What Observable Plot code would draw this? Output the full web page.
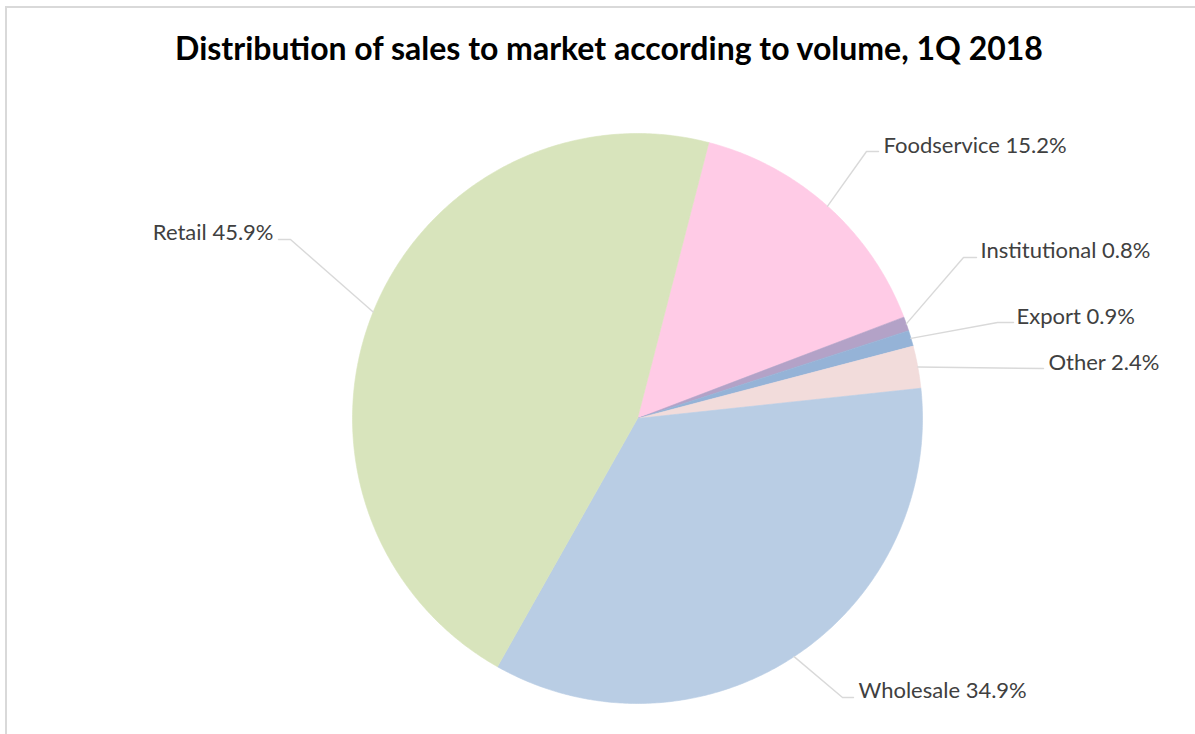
<!DOCTYPE html>
<html><head><meta charset="utf-8">
<script src="https://cdn.jsdelivr.net/npm/d3@7"></script>
<script src="https://cdn.jsdelivr.net/npm/@observablehq/plot@0.6"></script>
<style>
body{margin:0;background:#fff;width:1195px;height:734px;overflow:hidden;position:relative;font-family:Lato,sans-serif}
#frame{position:absolute;left:5px;top:6px;width:1300px;height:900px;border:2px solid #d9d9d9;box-sizing:border-box}
#title{position:absolute;left:0;width:1218px;top:27px;text-align:center;font-weight:bold;font-size:32px;color:#000;line-height:42px}
#chart{position:absolute;left:0;top:90px}
</style></head><body>
<div id="frame"></div>
<div id="title">Distribution of sales to market according to volume, 1Q 2018</div>
<div id="chart"></div>
<script>
// ---- data ----
const categories = ["Foodservice", "Institutional", "Export", "Other", "Wholesale", "Retail"];
const shares = [15.2, 0.8, 0.9, 2.4, 34.9, 45.9];
const sliceColors = ["#ffcbe6", "#b3a2c7", "#95b3d7", "#f2dcdb", "#b9cde4", "#d8e4bc"];

// ---- layout (page pixels) ----
const W = 1195, H = 644, TOP = 90;
const CX = 637, CY = 418, R = 285;       // pie centre / radius on the page
const startDeg = 14.5;                    // clockwise from 12 o'clock
const labelLayout = {
  Foodservice:   {tx: 883,  ty: 152, anchor: "start", elbow: [866, 151], end: [878, 151]},
  Institutional: {tx: 980,  ty: 257, anchor: "start", elbow: [963, 257], end: [976, 257]},
  Export:        {tx: 1016, ty: 323, anchor: "start", elbow: [997, 322], end: [1013, 322]},
  Other:         {tx: 1048, ty: 369, anchor: "start", elbow: null,       end: [1043, 368]},
  Wholesale:     {tx: 858,  ty: 697, anchor: "start", elbow: [842, 697], end: [853, 697]},
  Retail:        {tx: 273,  ty: 239, anchor: "end",   elbow: [290, 239], end: [278, 239]}
};
const px = (x) => (x - CX) / R;
const py = (y) => (CY - y) / R;

// ---- derived geometry in data units (radius = 1) ----
const total = d3.sum(shares);
const rad = (deg) => deg * Math.PI / 180;
let acc = startDeg;
const slicePts = [], leaderPts = [], labelData = [];
categories.forEach((cat, i) => {
  const a0 = acc, a1 = acc + shares[i] / total * 360;
  acc = a1;
  slicePts.push({cat, x: 0, y: 0});
  const n = Math.max(2, Math.ceil((a1 - a0) / 0.5));
  for (let k = 0; k <= n; k++) {
    const a = rad(a0 + (a1 - a0) * k / n);
    slicePts.push({cat, x: Math.sin(a), y: Math.cos(a)});
  }
  slicePts.push({cat, x: 0, y: 0});
  const am = rad((a0 + a1) / 2);
  const L = labelLayout[cat];
  leaderPts.push({cat, x: Math.sin(am), y: Math.cos(am)});
  if (L.elbow) leaderPts.push({cat, x: px(L.elbow[0]), y: py(L.elbow[1])});
  leaderPts.push({cat, x: px(L.end[0]), y: py(L.end[1])});
  labelData.push({cat, x: px(L.tx), y: py(L.ty), anchor: L.anchor,
                  text: `${cat} ${shares[i].toFixed(1)}%`});
});

const chart = Plot.plot({
  width: W, height: H, margin: 0,
  x: {domain: [px(0), px(W)], axis: null},
  y: {domain: [py(TOP + H), py(TOP)], axis: null},
  color: {domain: categories, range: sliceColors},
  marks: [
    Plot.line(slicePts, {x: "x", y: "y", z: "cat", fill: "cat", stroke: "cat", strokeWidth: 0.6}),
    Plot.line(leaderPts, {x: "x", y: "y", z: "cat", stroke: "#d9d9d9", strokeWidth: 1.4}),
    Plot.text(labelData.filter(d => d.anchor === "start"), {x: "x", y: "y", text: "text", textAnchor: "start", lineAnchor: "bottom", fontSize: 22, fill: "#404040", fontFamily: "Lato"}),
    Plot.text(labelData.filter(d => d.anchor === "end"), {x: "x", y: "y", text: "text", textAnchor: "end", lineAnchor: "bottom", fontSize: 22, fill: "#404040", fontFamily: "Lato"})
  ]
});
document.getElementById("chart").appendChild(chart);
</script>
</body></html>
